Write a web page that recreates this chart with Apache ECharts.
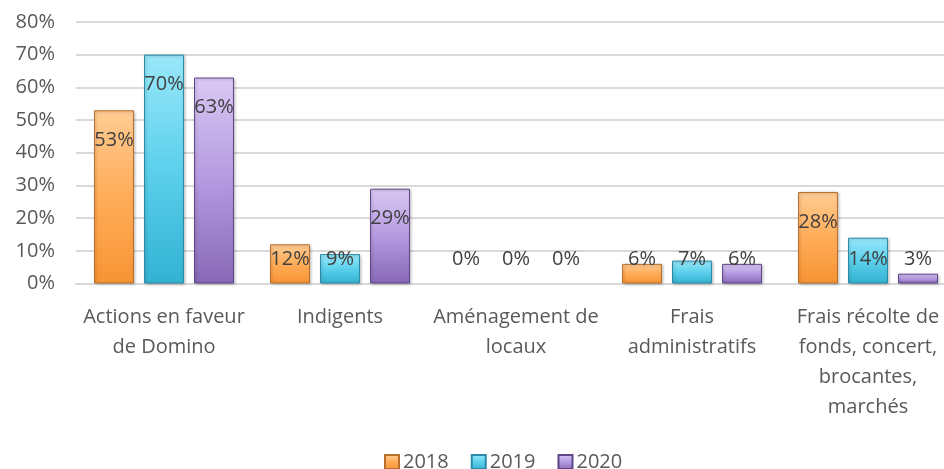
<!DOCTYPE html>
<html>
<head>
<meta charset="utf-8">
<script src="https://cdn.jsdelivr.net/npm/echarts@6/dist/echarts.min.js"></script>
<style>
  html, body { margin: 0; padding: 0; background: #fff; overflow: hidden; }
  /* plot area runs a little past the right edge, like the original */
  #chart { width: 956px; height: 469px; }
</style>
</head>
<body>
<div id="chart"></div>
<script>
// categories as shown under the bars
const categories = [
  'Actions en faveur\nde Domino',
  'Indigents',
  'Aménagement de\nlocaux',
  'Frais\nadministratifs',
  'Frais récolte de\nfonds, concert,\nbrocantes,\nmarchés'
]
const years = ['2018', '2019', '2020']
const values2018 = [53, 12, 0, 6, 28]
const values2019 = [70, 9, 0, 7, 14]
const values2020 = [63, 29, 0, 6, 3]
const yTicks = [0, 80, 10] // min, max, step

const font = 'Open Sans'

function grad(top, mid, bottom) {
  return new echarts.graphic.LinearGradient(0, 0, 0, 1, [
    { offset: 0, color: top },
    { offset: 0.5, color: mid },
    { offset: 1, color: bottom }
  ])
}

const styles = [
  { color: grad('#ffcc94', '#ffac58', '#f79434'), border: '#b8702c' },
  { color: grad('#9ae8fa', '#5cd0ec', '#32b2d2'), border: '#2b8aa6' },
  { color: grad('#dac8f4', '#b49ae0', '#8868b6'), border: '#5f4788' }
]

// Excel "inside end" labels: sit under the bar top, but never lower than near the axis
function makeData(values) {
  return values.map(v => {
    const item = { value: v }
    if (v >= 17) {
      item.label = { position: 'insideTop', distance: 20 }
    } else {
      item.label = { position: 'insideBottom', distance: 14 }
    }
    if (v === 0) {
      item.itemStyle = { borderWidth: 0, shadowBlur: 0, shadowOffsetX: 0, shadowOffsetY: 0 }
    }
    return item
  })
}

const allValues = [values2018, values2019, values2020]

const myChart = echarts.init(document.getElementById('chart'))
myChart.setOption({
  animation: false,
  textStyle: { fontFamily: font },
  grid: { left: 76, right: 0, top: 22, bottom: 185.5, containLabel: false },
  legend: {
    top: 447,
    left: 379,
    itemWidth: 14,
    itemHeight: 14,
    itemGap: 22,
    icon: 'rect',
    textStyle: { fontFamily: font, fontSize: 20, color: '#595959', padding: [0, 0, 0, -1] },
    data: years
  },
  xAxis: {
    type: 'category',
    data: categories,
    axisLine: { show: true, lineStyle: { color: '#d9d9d9', width: 2 } },
    axisTick: { show: false },
    axisLabel: {
      interval: 0,
      margin: 19,
      fontSize: 20,
      lineHeight: 30,
      color: '#595959',
      fontFamily: font
    }
  },
  yAxis: {
    type: 'value',
    min: yTicks[0],
    max: yTicks[1],
    interval: yTicks[2],
    axisLine: { show: false },
    axisTick: { show: false },
    axisLabel: {
      formatter: '{value}%',
      margin: 21,
      fontSize: 20,
      color: '#595959',
      fontFamily: font
    },
    splitLine: { lineStyle: { color: '#d9d9d9', width: 2 } }
  },
  series: years.map((y, i) => ({
    name: y,
    type: 'bar',
    barWidth: 40,
    barGap: '25%',
    itemStyle: {
      color: styles[i].color,
      borderColor: styles[i].border,
      borderWidth: 1,
      shadowColor: 'rgba(0,0,0,0.25)',
      shadowBlur: 3,
      shadowOffsetX: 1,
      shadowOffsetY: 1
    },
    label: {
      show: true,
      formatter: '{c}%',
      fontSize: 20,
      color: '#404040',
      fontFamily: font
    },
    data: makeData(allValues[i])
  }))
})
</script>
</body>
</html>
